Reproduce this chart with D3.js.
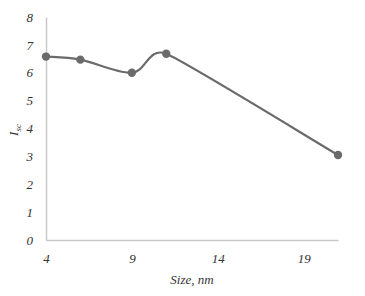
<!DOCTYPE html>
<html>
<head>
<meta charset="utf-8">
<script src="https://cdn.jsdelivr.net/npm/d3@7"></script>
<style>
  body { margin: 0; background: #fff; }
  svg text { font-family: "Liberation Serif", "DejaVu Serif", serif !important; font-style: italic; fill: #333; }
</style>
</head>
<body>
<div id="chart"></div>
<script>
// data
const sizes = [4, 6, 9, 11, 21]
const isc = [6.58, 6.47, 6.0, 6.68, 3.05]
const xTicks = [4, 9, 14, 19]
const yTicks = [0, 1, 2, 3, 4, 5, 6, 7, 8]

const width = 365
const height = 296
const margin = {left: 46, top: 17, right: 27, bottom: 56}
const serif = "Liberation Serif, serif"

const svg = d3.select("#chart")
    .append("svg")
    .attr("width", width)
    .attr("height", height)

const x = d3.scaleLinear()
    .domain([4, 21])
    .range([margin.left, width - margin.right])

const y = d3.scaleLinear()
    .domain([0, 8])
    .range([height - margin.bottom, margin.top])

// axes
const xAxis = svg.append("g")
    .attr("transform", `translate(0,${y(0)})`)
    .call(d3.axisBottom(x).tickValues(xTicks).tickSize(0).tickPadding(14))
xAxis.attr("font-family", serif)
xAxis.select(".domain").attr("stroke", "#c8c8c8").attr("stroke-width", 1.5)
xAxis.selectAll("text").attr("font-size", 13).attr("fill", "#333")

const yAxis = svg.append("g")
    .attr("transform", `translate(${x(4)},0)`)
    .call(d3.axisLeft(y).tickValues(yTicks).tickSize(0).tickPadding(13))
yAxis.attr("font-family", serif)
yAxis.select(".domain").attr("stroke", "#c8c8c8").attr("stroke-width", 1.5)
yAxis.selectAll("text").attr("font-size", 13).attr("fill", "#333")

// Excel-style smoothed line: bezier arms of (next - prev)/6, capped at half the neighbouring segment
const pts = sizes.map((s, i) => [x(s), y(isc[i])])
const dist = (a, b) => Math.hypot(a[0] - b[0], a[1] - b[1])
function arm(i) {
    const p0 = pts[Math.max(i - 1, 0)], p1 = pts[i], p2 = pts[Math.min(i + 1, pts.length - 1)]
    const d02 = dist(p0, p2)
    if (d02 === 0) return [0, 0]
    let len = d02 / 6
    const d01 = dist(p0, p1), d12 = dist(p1, p2)
    if (d01 > 0) len = Math.min(len, d01 / 2)
    if (d12 > 0) len = Math.min(len, d12 / 2)
    return [(p2[0] - p0[0]) / d02 * len, (p2[1] - p0[1]) / d02 * len]
}
const path = d3.path()
path.moveTo(pts[0][0], pts[0][1])
for (let i = 0; i < pts.length - 1; i++) {
    const a = arm(i), b = arm(i + 1)
    path.bezierCurveTo(pts[i][0] + a[0], pts[i][1] + a[1],
        pts[i + 1][0] - b[0], pts[i + 1][1] - b[1],
        pts[i + 1][0], pts[i + 1][1])
}
svg.append("path")
    .attr("fill", "none")
    .attr("stroke", "#6b6b6b")
    .attr("stroke-width", 2.2)
    .attr("d", path.toString())

svg.selectAll("circle.pt")
    .data(sizes.map((s, i) => [s, isc[i]]))
    .join("circle")
    .attr("class", "pt")
    .attr("cx", d => x(d[0]))
    .attr("cy", d => y(d[1]))
    .attr("r", 4.2)
    .attr("fill", "#6b6b6b")

// axis titles
svg.append("text")
    .attr("x", 192)
    .attr("y", 284)
    .attr("text-anchor", "middle")
    .attr("font-size", 13)
    .text("Size, nm")

const yt = svg.append("text")
    .attr("transform", "translate(18,130) rotate(-90)")
    .attr("text-anchor", "middle")
    .attr("font-size", 13)
yt.append("tspan").text("I")
yt.append("tspan").attr("font-size", 9).attr("dy", 3).text("sc")
</script>
</body>
</html>
